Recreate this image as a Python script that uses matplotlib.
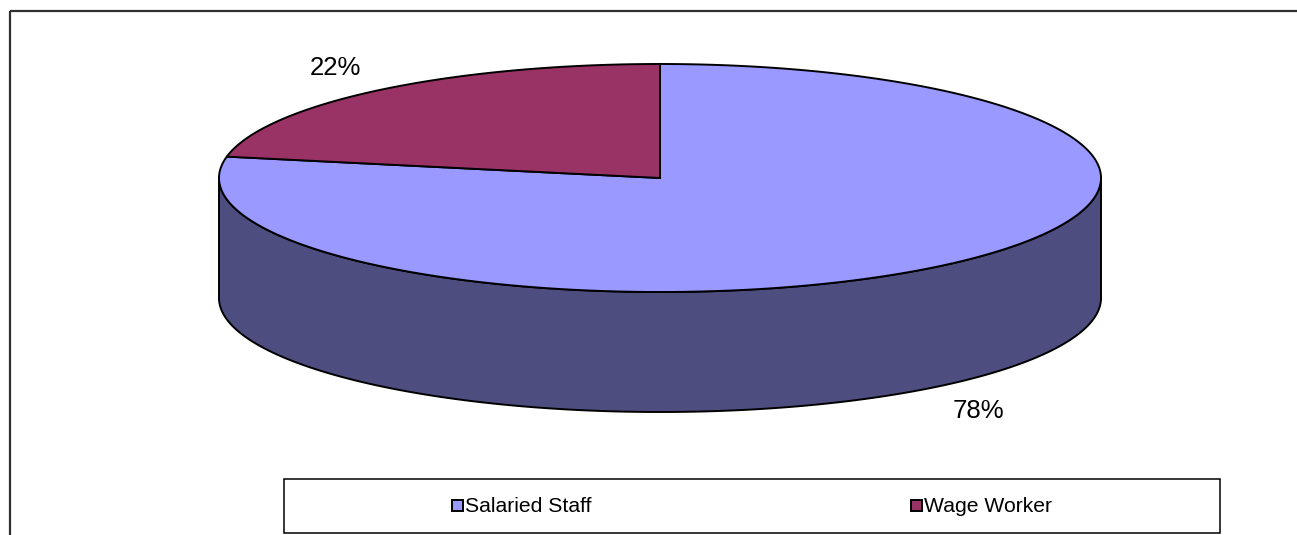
import numpy as np
import matplotlib
matplotlib.use("Agg")
import matplotlib.pyplot as plt
from matplotlib.patches import Polygon, Rectangle

plt.rcParams['font.family'] = ['Liberation Sans', 'DejaVu Sans']

# Workforce composition
categories = ["Salaried Staff", "Wage Worker"]
shares = [78, 22]
top_colors = ["#9999FF", "#993366"]
side_colors = ["#4D4D80", "#4D1A33"]

W, H = 1297, 535
fig = plt.figure(figsize=(W / 100, H / 100), dpi=100)
ax = fig.add_axes([0, 0, 1, 1])
ax.set_xlim(0, W)
ax.set_ylim(H, 0)
ax.axis("off")

# chart frame (right/bottom fall outside the canvas)
ax.add_patch(Rectangle((10, 11), W + 20, H + 20, fill=False,
                       edgecolor="#303030", linewidth=1.6, zorder=0))

# 3-D pie geometry
cx, cy = 660, 178
a, b = 441, 114
depth = 120


def ell(t_deg, dy=0.0):
    t = np.radians(t_deg)
    return np.column_stack([cx + a * np.cos(t), cy - b * np.sin(t) + dy])


# slice angles: Wage Worker starts at 12 o'clock going counter-clockwise,
# Salaried Staff fills the rest
total = float(sum(shares))
wage_span = 360.0 * shares[1] / total
spans = {
    "Wage Worker": (90.0, 90.0 + wage_span),
    "Salaried Staff": (90.0 + wage_span, 450.0),
}

# visible front wall (lower half of the ellipse)
for name, col in zip(categories, side_colors):
    s, e = spans[name]
    lo, hi = max(s, 180.0), min(e, 360.0)
    if s > 360:
        lo, hi = max(s - 360, 180.0), min(e - 360, 360.0)
    if hi <= lo:
        continue
    t = np.linspace(lo, hi, 300)
    top = ell(t)
    bot = ell(t[::-1], depth)
    ax.add_patch(Polygon(np.vstack([top, bot]), closed=True, facecolor=col,
                         edgecolor="black", linewidth=1.4, joinstyle="round",
                         zorder=2))

# top face slices
for name, col in zip(categories, top_colors):
    s, e = spans[name]
    t = np.linspace(s, e, 600)
    pts = np.vstack([[cx, cy], ell(t)])
    ax.add_patch(Polygon(pts, closed=True, facecolor=col, edgecolor="black",
                         linewidth=1.4, joinstyle="miter", zorder=3))

# percentage labels
ax.text(335, 68, f"{shares[1]}%", ha="center", va="center", fontsize=18.5,
        color="black", zorder=5)
ax.text(978, 411, f"{shares[0]}%", ha="center", va="center", fontsize=18.5,
        color="black", zorder=5)

# legend
ax.add_patch(Rectangle((284, 479), 936, 54, facecolor="white",
                       edgecolor="black", linewidth=1.1, zorder=4))
legend_x = [452, 911]
for x0, name, col in zip(legend_x, categories, top_colors):
    ax.add_patch(Rectangle((x0, 500), 11, 11, facecolor=col,
                           edgecolor="black", linewidth=1.4, zorder=5))
    ax.text(x0 + 13, 506.5, name, ha="left", va="center", fontsize=15.2,
            color="black", zorder=5)

fig.savefig("out.png", dpi=100)
